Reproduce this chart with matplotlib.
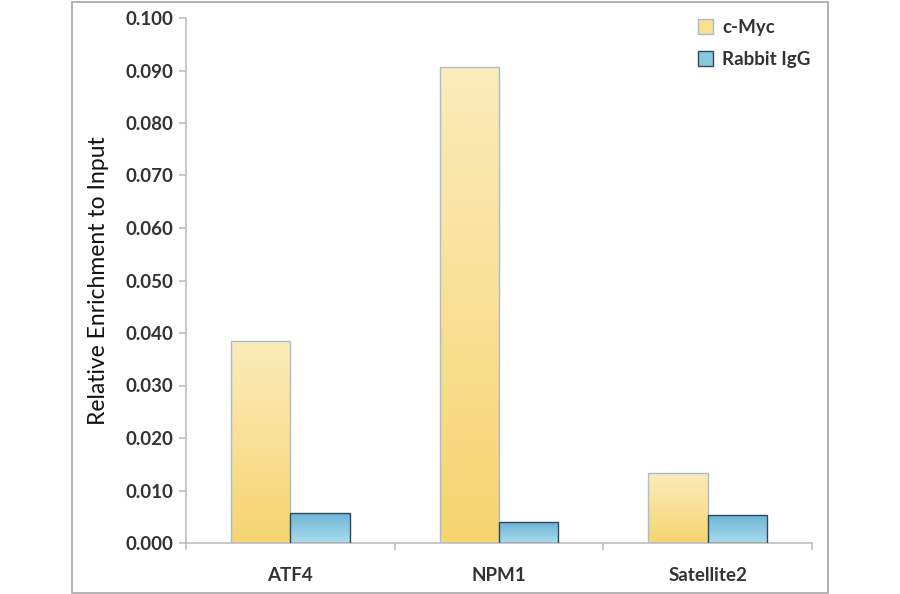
import numpy as np
import matplotlib
matplotlib.use("Agg")
import matplotlib.pyplot as plt
from matplotlib.patches import Rectangle, Patch

plt.rcParams['font.family'] = ['Lato', 'DejaVu Sans']

genes = ["ATF4", "NPM1", "Satellite2"]
cmyc = [0.0385, 0.0906, 0.0134]
igg = [0.0058, 0.0040, 0.0053]
series_names = ["c-Myc", "Rabbit IgG"]
yticks = [0.000, 0.010, 0.020, 0.030, 0.040, 0.050, 0.060, 0.070, 0.080, 0.090, 0.100]

fig = plt.figure(figsize=(9, 5.94), dpi=100)
ax = fig.add_axes([186/900, 1-543/594, (812-186)/900, (543-18)/594])

# outer frame around the whole chart
fig.patches.append(Rectangle((72/900, 1/594), (828-72)/900, (592-1)/594,
                             transform=fig.transFigure, fill=False,
                             edgecolor='#a6a6a6', linewidth=1.2))

width = 0.285
x = np.arange(len(genes))

def grad_bars(xs, vals, top_col, bot_col, edge):
    bars = ax.bar(xs, vals, width, color='none', edgecolor=edge, linewidth=1.0, zorder=3)
    grad = np.linspace(0, 1, 256).reshape(-1, 1)
    c1 = np.array(matplotlib.colors.to_rgb(top_col))
    c2 = np.array(matplotlib.colors.to_rgb(bot_col))
    img = c1[None, None, :] * (1 - grad[:, :, None]) + c2[None, None, :] * grad[:, :, None]
    for b in bars:
        bx, by = b.get_x(), b.get_y()
        w, h = b.get_width(), b.get_height()
        im = ax.imshow(img, extent=[bx, bx + w, by, by + h], aspect='auto',
                       origin='upper', zorder=2)
        im.set_clip_path(b)
    return bars

grad_bars(x - width/2, cmyc, '#fbecbc', '#f6d470', '#a9bccb')
grad_bars(x + width/2, igg, '#6db3d6', '#a9dcec', '#2e4a58')

ax.set_xlim(-0.5, 2.5)
ax.set_ylim(0, 0.1)
ax.set_yticks(yticks)
ax.set_yticklabels([f"{v:.3f}" for v in yticks], fontsize=13.5, fontweight='bold', color='#333333')
ax.set_xticks(x)
ax.set_xticklabels(genes, fontsize=13.5, fontweight='bold', color='#333333')
ax.tick_params(axis='x', which='major', length=0, pad=17)
ax.set_xticks([-0.5, 0.5, 1.5, 2.5], minor=True)
ax.tick_params(axis='x', which='minor', length=5, color='#bfbfbf', width=1.2)
ax.tick_params(axis='y', length=5, color='#bfbfbf', width=1.2, pad=4)

for s in ['top', 'right']:
    ax.spines[s].set_visible(False)
for s in ['left', 'bottom']:
    ax.spines[s].set_color('#bfbfbf')
    ax.spines[s].set_linewidth(1.2)

ax.set_ylabel("Relative Enrichment to Input", fontsize=16.5, color='#111111', labelpad=12)

handles = [Patch(facecolor='#f9df8e', edgecolor='#a9bccb'),
           Patch(facecolor='#8ac8e2', edgecolor='#2e4a58')]
ax.legend(handles, series_names, loc='upper right', bbox_to_anchor=(1.025, 1.03),
          frameon=False, handlelength=0.8, handleheight=0.8,
          handletextpad=0.5, labelspacing=0.8, prop={'weight': 'bold', 'size': 13.5})
for t in ax.get_legend().get_texts():
    t.set_color('#333333')

fig.savefig("out.png", dpi=100)
